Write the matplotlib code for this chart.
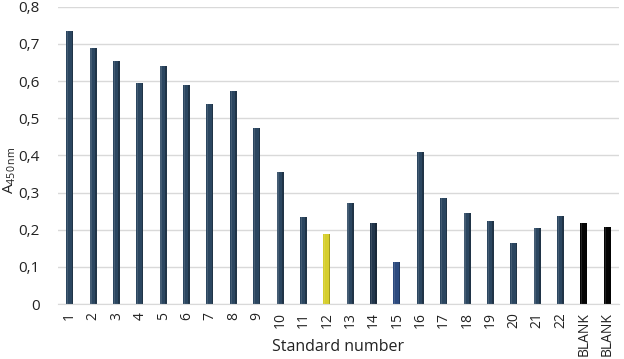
import matplotlib
matplotlib.use("Agg")
import matplotlib.pyplot as plt
import numpy as np

categories = [str(i) for i in range(1, 23)] + ["BLANK", "BLANK"]
values = [0.735, 0.690, 0.653, 0.596, 0.642, 0.589, 0.538, 0.574, 0.473, 0.356,
          0.235, 0.189, 0.273, 0.218, 0.113, 0.408, 0.285, 0.245, 0.224, 0.165,
          0.205, 0.238, 0.217, 0.207]
colors = ["#2b4660"] * 22 + ["#050505", "#050505"]
colors[11] = "#d6ce2c"
colors[13] = "#22364c"
colors[14] = "#2c4a7e"
yticks = [0, 0.1, 0.2, 0.3, 0.4, 0.5, 0.6, 0.7, 0.8]
ytick_labels = ["0", "0,1", "0,2", "0,3", "0,4", "0,5", "0,6", "0,7", "0,8"]

plt.rcParams['font.family'] = ['Open Sans', 'DejaVu Sans']

fig = plt.figure(figsize=(6.24, 3.59), dpi=100)
ax = fig.add_axes([0.093, 0.153, 0.899, 0.828])

x = np.arange(len(categories))
w = 0.30
ax.bar(x, values, width=w, color=colors, edgecolor='none', zorder=3)
# subtle shading: lighter left strip, darker right strip
ax.bar(x - w * 0.30, values, width=w * 0.18, color='white', alpha=0.12, edgecolor='none', zorder=4)
ax.bar(x + w * 0.38, values, width=w * 0.24, color='black', alpha=0.25, edgecolor='none', zorder=4)

ax.set_xlim(-0.5, len(categories) - 0.5)
ax.set_ylim(0, 0.8)
ax.set_yticks(yticks)
ax.set_yticklabels(ytick_labels, fontsize=11, color='#222222')
ax.set_xticks(x)
ax.set_xticklabels(categories, rotation=90, fontsize=10, color='#222222')
ax.tick_params(axis='y', length=0, pad=13)
ax.tick_params(axis='x', length=0, pad=6)
ax.grid(axis='y', color='#d9d9d9', linewidth=1, zorder=0)
for s in ['top', 'right', 'left']:
    ax.spines[s].set_visible(False)
ax.spines['bottom'].set_color('#d9d9d9')
ax.spines['bottom'].set_zorder(5)

ax.set_xlabel("Standard number", fontsize=11.5, color='#222222')
ax.xaxis.set_label_coords(0.5, -0.118)
ax.set_ylabel(r"A$_{\mathregular{450\,nm}}$", fontsize=11, color='#222222',
              va='center')
ax.yaxis.set_label_coords(-0.087, 0.45)

fig.savefig("out.png", dpi=100)
